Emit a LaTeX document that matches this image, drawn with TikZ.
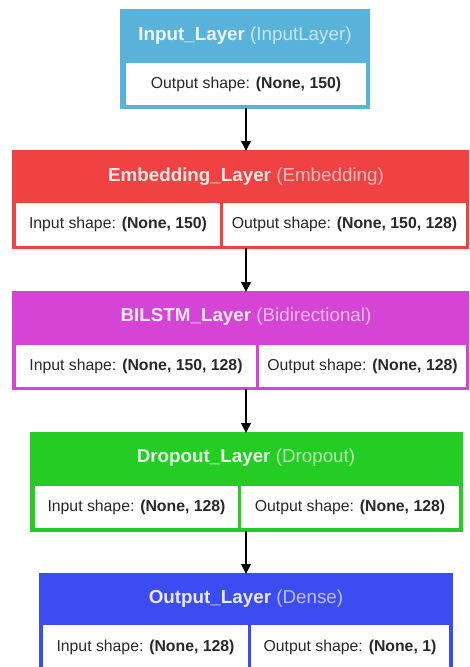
\documentclass[tikz,border=0pt]{standalone}
\usepackage{fontspec}
\setmainfont{Liberation Sans}
\usetikzlibrary{arrows.meta}
\definecolor{cin}{RGB}{88,178,218}
\definecolor{cemb}{RGB}{240,66,66}
\definecolor{clstm}{RGB}{214,68,214}
\definecolor{cdrop}{RGB}{36,204,36}
\definecolor{cout}{RGB}{60,76,240}
\definecolor{txt}{RGB}{40,40,40}
\tikzset{
  layerbox/.style={rectangle, inner sep=0pt, outer sep=0pt, line width=1.2pt, anchor=north west},
  cellbox/.style={rectangle, fill=white, inner sep=0pt, outer sep=0pt, anchor=north west,
    font=\fontsize{15.8}{18}\selectfont, text=txt},
  celltext/.style={inner sep=0pt, outer sep=0pt, anchor=center,
    font=\fontsize{15.8}{18}\selectfont, text=txt},
  titlebox/.style={inner sep=0pt, font=\fontsize{18.8}{21}\selectfont},
  arr/.style={-{Triangle[length=10pt,width=9.5pt]}, line width=1.9pt, black}
}
\begin{document}
\begin{tikzpicture}[x=1pt,y=-1pt]
\useasboundingbox (0,0) rectangle (469,667);
\clip (0,0) rectangle (469,667);
\fill[white] (0,0) rectangle (469,667);

% Input layer
\node[layerbox, fill=cin, draw=cin, minimum width=248pt, minimum height=98pt] (inp) at (121,10) {};
\node[titlebox, text=white!90!cin] (inpT) at (245,36) {\textbf{Input\_Layer} {\color{white!68!cin}(InputLayer)}};
\node[cellbox, minimum width=240pt, minimum height=42pt] (inpO) at (126,63) {Output shape: \textbf{(None, 150)}};

% Embedding layer
\node[layerbox, fill=cemb, draw=cemb, minimum width=456pt, minimum height=97pt] (emb) at (13,151) {};
\node[titlebox, text=white!88!cemb] (embT) at (246,177) {\textbf{Embedding\_Layer} {\color{white!65!cemb}(Embedding)}};
\node[cellbox, minimum width=204pt, minimum height=43pt] (embI) at (16,203) {Input shape: \textbf{(None, 150)}};
\node[cellbox, minimum width=243pt, minimum height=43pt] (embO) at (223,203) {Output shape: \textbf{(None, 150, 128)}};

% BiLSTM layer
\node[layerbox, fill=clstm, draw=clstm, minimum width=456pt, minimum height=97pt] (lstm) at (13,292) {};
\node[titlebox, text=white!88!clstm] (lstmT) at (246,317) {\textbf{BILSTM\_Layer} {\color{white!65!clstm}(Bidirectional)}};
\node[cellbox, minimum width=240pt, minimum height=42pt] (lstmI) at (16,345) {Input shape: \textbf{(None, 150, 128)}};
\node[cellbox, minimum width=207pt, minimum height=42pt] (lstmO) at (259,345) {Output shape: \textbf{(None, 128)}};

% Dropout layer
\node[layerbox, fill=cdrop, draw=cdrop, minimum width=431pt, minimum height=98pt] (drop) at (31,433) {};
\node[titlebox, text=white!88!cdrop] (dropT) at (246,458) {\textbf{Dropout\_Layer} {\color{white!65!cdrop}(Dropout)}};
\node[cellbox, minimum width=203pt, minimum height=42pt] (dropI) at (35,486) {Input shape: \textbf{(None, 128)}};
\node[cellbox, minimum width=218pt, minimum height=42pt] (dropO) at (241,486) {Output shape: \textbf{(None, 128)}};

% Output layer (cut off at the bottom edge)
\node[layerbox, fill=cout, draw=cout, minimum width=412pt, minimum height=110pt] (outl) at (40,574) {};
\node[titlebox, text=white!88!cout] (outT) at (246,599) {\textbf{Output\_Layer} {\color{white!65!cout}(Dense)}};
\node[cellbox, minimum width=205pt, minimum height=50pt] (outI) at (43,625) {};
\node[cellbox, minimum width=198pt, minimum height=50pt] (outO) at (251,625) {};
\node[celltext] (outIt) at (145.5,647) {Input shape: \textbf{(None, 128)}};
\node[celltext] (outOt) at (350,647) {Output shape: \textbf{(None, 1)}};

% connectors
\draw[arr] (inp.south -| inpO.south) -- (inpO.south |- emb.north);
\draw[arr] (emb.south -| inpO.south) -- (inpO.south |- lstm.north);
\draw[arr] (lstm.south -| inpO.south) -- (inpO.south |- drop.north);
\draw[arr] (drop.south -| inpO.south) -- (inpO.south |- outl.north);
\end{tikzpicture}
\end{document}
